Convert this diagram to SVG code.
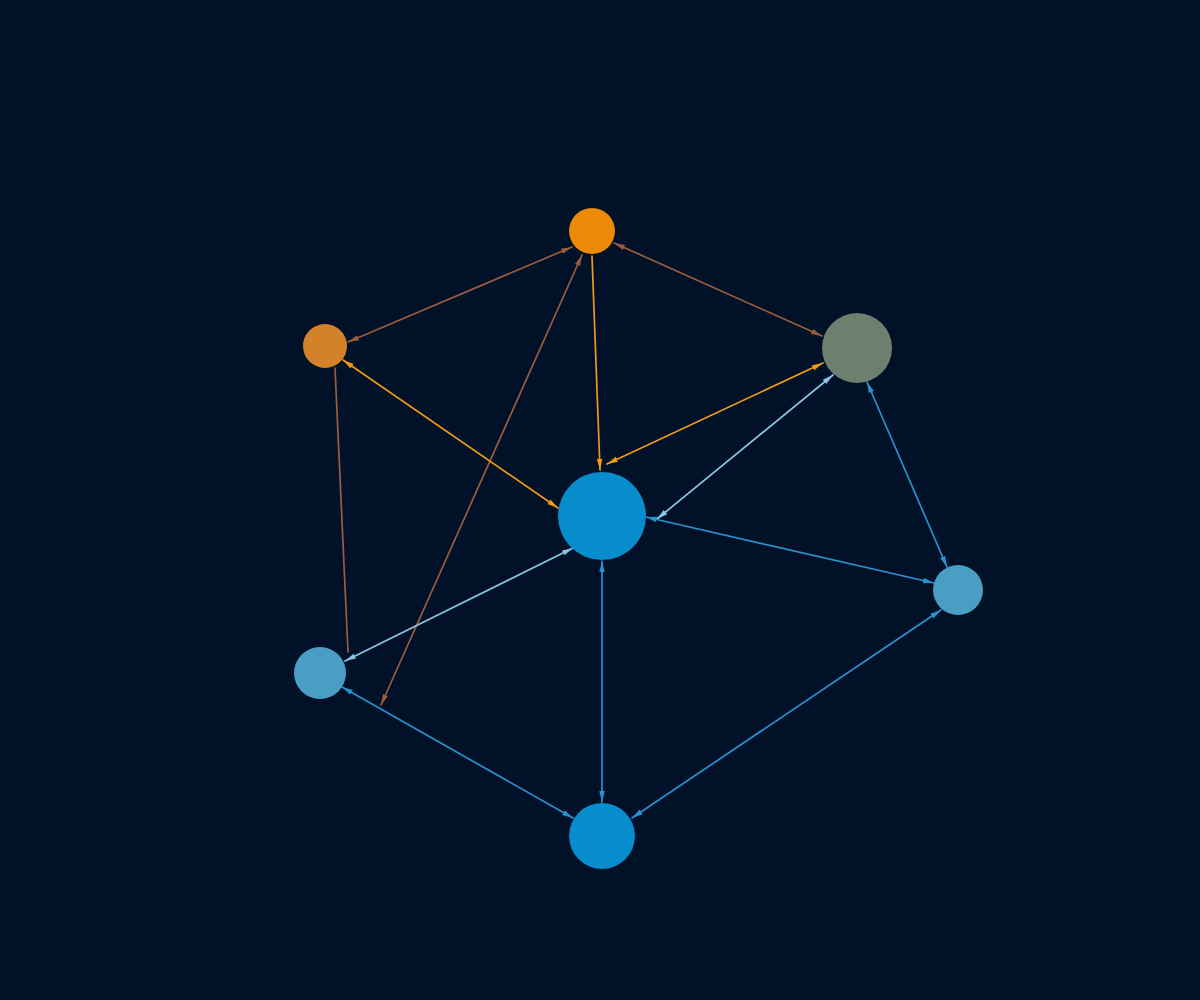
<svg xmlns="http://www.w3.org/2000/svg" width="1200" height="1000" viewBox="0 0 1200 1000">
<defs>
<style>
.e{fill:none;stroke-width:1.7;stroke-linecap:round}
.brown{stroke:#9a5c3c}
.orange{stroke:#f09a18}
.light{stroke:#8cc4e4}
.blue{stroke:#2b90d0}
</style>
<marker id="mBrown" viewBox="0 0 10 6" refX="10" refY="3" markerWidth="11" markerHeight="6.6" markerUnits="userSpaceOnUse" orient="auto-start-reverse"><path d="M0,0.5 L10,3 L0,5.5 z" fill="#9a5c3c"/></marker>
<marker id="mOrange" viewBox="0 0 10 6" refX="10" refY="3" markerWidth="11" markerHeight="6.6" markerUnits="userSpaceOnUse" orient="auto-start-reverse"><path d="M0,0.5 L10,3 L0,5.5 z" fill="#f09a18"/></marker>
<marker id="mLight" viewBox="0 0 10 6" refX="10" refY="3" markerWidth="11" markerHeight="6.6" markerUnits="userSpaceOnUse" orient="auto-start-reverse"><path d="M0,0.5 L10,3 L0,5.5 z" fill="#8cc4e4"/></marker>
<marker id="mBlue" viewBox="0 0 10 6" refX="10" refY="3" markerWidth="11" markerHeight="6.6" markerUnits="userSpaceOnUse" orient="auto-start-reverse"><path d="M0,0.5 L10,3 L0,5.5 z" fill="#2b90d0"/></marker>
</defs>
<rect x="0" y="0" width="1200" height="1000" fill="#011228"/>
<g id="connectors">
<line class="e brown" x1="572" y1="247" x2="348" y2="342" marker-start="url(#mBrown)" marker-end="url(#mBrown)"/>
<line class="e brown" x1="614" y1="243" x2="822" y2="336" marker-start="url(#mBrown)" marker-end="url(#mBrown)"/>
<line class="e brown" x1="582" y1="255" x2="381" y2="705" marker-start="url(#mBrown)" marker-end="url(#mBrown)"/>
<line class="e brown" x1="335" y1="368" x2="348" y2="652"/>
<line class="e orange" x1="592" y1="256" x2="600" y2="470" marker-end="url(#mOrange)"/>
<line class="e orange" x1="823" y1="363" x2="607" y2="464" marker-start="url(#mOrange)" marker-end="url(#mOrange)"/>
<line class="e orange" x1="558" y1="508" x2="343" y2="360" marker-start="url(#mOrange)" marker-end="url(#mOrange)"/>
<line class="e light" x1="833" y1="375" x2="657" y2="519" marker-start="url(#mLight)" marker-end="url(#mLight)"/>
<line class="e light" x1="345" y1="661" x2="573" y2="548" marker-start="url(#mLight)" marker-end="url(#mLight)"/>
<line class="e blue" x1="646" y1="517" x2="934" y2="583" marker-start="url(#mBlue)" marker-end="url(#mBlue)"/>
<line class="e blue" x1="867" y1="382" x2="947" y2="567" marker-start="url(#mBlue)" marker-end="url(#mBlue)"/>
<line class="e blue" x1="941" y1="610" x2="632" y2="818" marker-start="url(#mBlue)" marker-end="url(#mBlue)"/>
<line class="e blue" x1="602" y1="561" x2="602" y2="802" marker-start="url(#mBlue)" marker-end="url(#mBlue)"/>
<line class="e blue" x1="342" y1="687" x2="573" y2="818" marker-start="url(#mBlue)" marker-end="url(#mBlue)"/>
</g>
<g id="node-a"><circle cx="592" cy="231" r="23" fill="#ec8a08"/></g>
<g id="node-b"><circle cx="325" cy="346" r="22" fill="#d4822a"/></g>
<g id="node-c"><circle cx="857" cy="348" r="35" fill="#6e7f70"/></g>
<g id="node-d"><circle cx="602" cy="516" r="44" fill="#078ccc"/></g>
<g id="node-e"><circle cx="958" cy="590" r="25" fill="#4a9ec4"/></g>
<g id="node-f"><circle cx="320" cy="673" r="26" fill="#4a9ec4"/></g>
<g id="node-g"><circle cx="602" cy="836" r="33" fill="#078ccc"/></g>
</svg>
